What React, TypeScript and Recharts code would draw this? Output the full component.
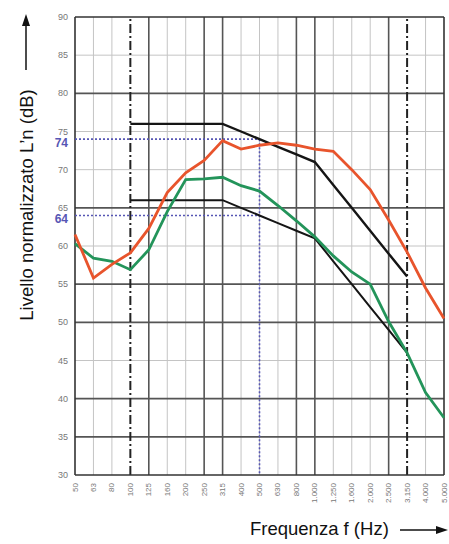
import React from 'react'
import { LineChart, Line, XAxis, YAxis, ReferenceLine } from 'recharts'

// frequenze in terzi d'ottava (etichette come nel grafico originale)
const frequenze = ['50', '63', '80', '100', '125', '160', '200', '250', '315', '400', '500', '630', '800', '1.000', '1.250', '1.600', '2.000', '2.500', '3.150', '4.000', '5.000']

const misuraRossa = [61.5, 55.8, 57.6, 59.1, 62.3, 67.0, 69.6, 71.2, 73.8, 72.7, 73.2, 73.5, 73.2, 72.7, 72.4, 70.0, 67.4, 63.4, 59.2, 54.5, 50.5]
const misuraVerde = [60.3, 58.4, 58.0, 56.9, 59.5, 64.5, 68.7, 68.8, 69.0, 67.9, 67.2, 65.3, 63.3, 61.2, 58.7, 56.6, 55.0, 50.1, 46.0, 40.8, 37.5]

// curve di riferimento traslate (74 e 64 dB a 500 Hz)
const rifAlta = [null, null, null, 76, 76, 76, 76, 76, 76, 75, 74, 73, 72, 71, 68, 65, 62, 59, 56, null, null]
const rifBassa = [null, null, null, 66, 66, 66, 66, 66, 66, 65, 64, 63, 62, 61, 58, 55, 52, 49, 46, null, null]

const yTicks = [30, 35, 40, 45, 50, 55, 60, 65, 70, 75, 80, 85, 90]
const valoriIndice = [74, 64]

const righeScure = [80, 65, 55, 50, 40, 35]
const righeChiare = [85, 75, 70, 60, 45]
const colonneScure = ['125', '250', '315', '800', '1.000', '2.500']
const colonneTratteggiate = ['100', '3.150']
const colonneChiare = ['63', '80', '160', '200', '400', '500', '630', '1.250', '1.600', '2.000', '4.000']

const chartData = frequenze.map((f, i) => ({
  f,
  rossa: misuraRossa[i],
  verde: misuraVerde[i],
  rifAlta: rifAlta[i],
  rifBassa: rifBassa[i],
}))

const FONT = '"Liberation Sans", Arial, sans-serif'
const BLU = '#5656b4'

function YTick(props: any) {
  const { x, y, payload } = props
  const v = payload.value
  const indice = valoriIndice.includes(v)
  return (
    <text
      x={x}
      y={indice ? y + 4 : y}
      textAnchor="end"
      dominantBaseline="central"
      fontFamily={FONT}
      fontSize={indice ? 12 : 9}
      fontWeight={indice ? 700 : 400}
      fill={indice ? BLU : '#777'}
    >
      {v}
    </text>
  )
}

function XTick(props: any) {
  const { x, y, payload } = props
  return (
    <text
      x={x}
      y={y}
      transform={`rotate(-90, ${x}, ${y})`}
      textAnchor="end"
      dominantBaseline="central"
      fontFamily={FONT}
      fontSize={8}
      fill="#777"
    >
      {payload.value}
    </text>
  )
}

export default function App() {
  return (
    <div style={{ position: 'absolute', left: 0, top: 0, width: 449, height: 544, background: '#fff' }}>
      <LineChart
        width={449}
        height={544}
        data={chartData}
        margin={{ top: 17, right: 5, left: 55, bottom: 29 }}
      >
        <XAxis
          dataKey="f"
          interval={0}
          axisLine={false}
          tickLine={false}
          tickSize={0}
          tickMargin={8}
          height={40}
          tick={<XTick />}
        />
        <YAxis
          type="number"
          domain={[30, 90]}
          ticks={[...yTicks, ...valoriIndice]}
          interval={0}
          axisLine={false}
          tickLine={false}
          tickSize={0}
          tickMargin={7}
          width={20}
          tick={<YTick />}
        />

        {righeChiare.map(v => (
          <ReferenceLine key={`rc-${v}`} y={v} stroke="#c4c4c4" strokeWidth={1} />
        ))}
        {colonneChiare.map(f => (
          <ReferenceLine key={`cc-${f}`} x={f} stroke="#c4c4c4" strokeWidth={1} />
        ))}
        {righeScure.map(v => (
          <ReferenceLine key={`rs-${v}`} y={v} stroke="#555" strokeWidth={1.6} />
        ))}
        {colonneScure.map(f => (
          <ReferenceLine key={`cs-${f}`} x={f} stroke="#555" strokeWidth={1.6} />
        ))}
        {colonneTratteggiate.map(f => (
          <ReferenceLine key={`ct-${f}`} x={f} stroke="#222" strokeWidth={2} strokeDasharray="9 3 2 3" />
        ))}

        {/* cornice */}
        <ReferenceLine y={30} stroke="#333" strokeWidth={1.6} />
        <ReferenceLine y={90} stroke="#333" strokeWidth={1.6} />
        <ReferenceLine x="50" stroke="#333" strokeWidth={1.6} />
        <ReferenceLine x="5.000" stroke="#333" strokeWidth={1.6} />

        {/* indici a 500 Hz */}
        <ReferenceLine segment={[{ x: '50', y: 74 }, { x: '500', y: 74 }]} stroke={BLU} strokeWidth={1.6} strokeDasharray="2 2" />
        <ReferenceLine segment={[{ x: '50', y: 64 }, { x: '500', y: 64 }]} stroke={BLU} strokeWidth={1.6} strokeDasharray="2 2" />
        <ReferenceLine segment={[{ x: '500', y: 74 }, { x: '500', y: 30 }]} stroke={BLU} strokeWidth={1.6} strokeDasharray="2 2" />

        <Line dataKey="rifAlta" stroke="#151515" strokeWidth={2.4} dot={false} isAnimationActive={false} />
        <Line dataKey="rifBassa" stroke="#151515" strokeWidth={2} dot={false} isAnimationActive={false} />
        <Line dataKey="verde" stroke="#23945a" strokeWidth={2.8} dot={false} isAnimationActive={false} />
        <Line dataKey="rossa" stroke="#e8542c" strokeWidth={2.8} dot={false} isAnimationActive={false} />
      </LineChart>

      <svg width={449} height={544} style={{ position: 'absolute', left: 0, top: 0, pointerEvents: 'none' }}>
        <text
          transform="translate(26, 205) rotate(-90)"
          textAnchor="middle"
          dominantBaseline="central"
          fontFamily={FONT}
          fontSize={18.5}
          fill="#111"
        >
          Livello normalizzato L’n (dB)
        </text>
        <line x1={26} y1={70} x2={26} y2={24} stroke="#111" strokeWidth={1.5} />
        <polygon points="26,14 22,26 30,26" fill="#111" />

        <text x={250} y={528} dominantBaseline="central" fontFamily={FONT} fontSize={18.5} fill="#111">
          Frequenza f (Hz)
        </text>
        <line x1={400} y1={530} x2={438} y2={530} stroke="#111" strokeWidth={1.5} />
        <polygon points="448,530 436,526 436,534" fill="#111" />
      </svg>
    </div>
  )
}
